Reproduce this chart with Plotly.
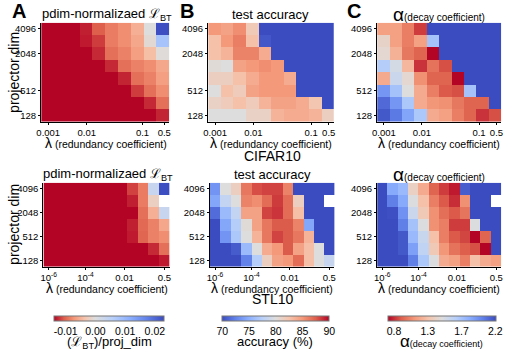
import plotly.graph_objects as go

# ---------------- data ----------------
TOP_X_TICKS = ["0.001", "0.01", "0.1", "0.5"]
BOT_X_TICKS = ["10<sup>-6</sup>", "10<sup>-4</sup>", "0.01", "0.5"]
Y_TICKS = ["4096", "2048", "512", "128"]

# CIFAR10: rows from projector dim 4096 (top) to 128 (bottom), 10 lambda columns
A_TOP = [
    [-0.0150, -0.0148, -0.0140, -0.0128, -0.0104, -0.0087, -0.0076, -0.0052, 0.0000, 0.0230],
    [-0.0150, -0.0150, -0.0146, -0.0130, -0.0117, -0.0087, -0.0076, -0.0058, -0.0007, 0.0081],
    [-0.0150, -0.0150, -0.0150, -0.0146, -0.0124, -0.0094, -0.0083, -0.0065, -0.0039, -0.0003],
    [-0.0150, -0.0150, -0.0150, -0.0150, -0.0146, -0.0124, -0.0094, -0.0083, -0.0076, -0.0058],
    [-0.0150, -0.0150, -0.0150, -0.0150, -0.0150, -0.0148, -0.0126, -0.0094, -0.0083, -0.0065],
    [-0.0150, -0.0150, -0.0150, -0.0150, -0.0150, -0.0150, -0.0148, -0.0117, -0.0094, -0.0076],
    [-0.0150, -0.0150, -0.0150, -0.0150, -0.0150, -0.0150, -0.0150, -0.0148, -0.0124, -0.0094],
    [-0.0150, -0.0150, -0.0150, -0.0150, -0.0150, -0.0150, -0.0150, -0.0150, -0.0148, -0.0126],
]
B_TOP = [
    [85.0, 84.5, 85.5, 82.0, 60.0, 60.0, 60.0, 60.0, 60.0, 60.0],
    [82.7, 85.0, 86.2, 82.7, 70.5, 60.0, 60.0, 60.0, 60.0, 60.0],
    [82.7, 83.5, 86.0, 86.0, 84.0, 60.0, 60.0, 60.0, 60.0, 60.0],
    [80.3, 80.0, 84.5, 85.0, 85.5, 85.0, 60.0, 60.0, 60.0, 60.0],
    [81.5, 81.5, 82.7, 84.0, 85.0, 85.0, 84.0, 60.0, 60.0, 60.0],
    [80.0, 82.7, 81.8, 84.5, 85.0, 85.0, 85.0, 60.0, 60.0, 60.0],
    [81.2, 81.8, 82.7, 81.8, 83.5, 84.5, 84.5, 84.0, 82.3, 60.0],
    [80.0, 80.0, 80.0, 81.2, 81.2, 83.5, 84.0, 84.0, 83.5, 81.5],
]
C_TOP = [
    [1.12, 1.12, 1.00, 0.83, 2.50, 2.50, 2.50, 2.50, 2.50, 2.50],
    [1.38, 1.12, 1.00, 1.12, 1.73, 2.50, 2.50, 2.50, 2.50, 2.50],
    [1.41, 1.19, 0.98, 0.92, 0.70, 2.50, 2.50, 2.50, 2.50, 2.50],
    [1.66, 1.51, 1.22, 0.81, 0.96, 0.87, 2.50, 2.50, 2.50, 2.50],
    [1.16, 1.56, 1.41, 1.06, 0.92, 0.92, 0.70, 2.50, 2.50, 2.50],
    [1.94, 1.73, 1.46, 1.16, 1.00, 0.89, 0.87, 1.73, 2.50, 2.50],
    [2.11, 1.94, 1.70, 1.16, 1.08, 1.06, 0.98, 0.92, 0.92, 2.50],
    [2.17, 2.05, 1.88, 1.70, 1.16, 1.12, 1.00, 0.92, 0.81, 0.87],
]

# STL10: rows 4096 (top) to 128 (bottom), 12 lambda columns
A_BOT = [
    [-0.0150, -0.0150, -0.0150, -0.0150, -0.0150, -0.0150, -0.0150, -0.0140, -0.0115, -0.0087, 0.0035, 0.0230],
    [-0.0150, -0.0150, -0.0150, -0.0150, -0.0150, -0.0150, -0.0150, -0.0145, -0.0128, -0.0087, -0.0020, None],
    [-0.0150, -0.0150, -0.0150, -0.0150, -0.0150, -0.0150, -0.0150, -0.0150, -0.0140, -0.0094, -0.0052, 0.0035],
    [-0.0150, -0.0150, -0.0150, -0.0150, -0.0150, -0.0150, -0.0150, -0.0150, -0.0128, -0.0098, -0.0083, -0.0058],
    [-0.0150, -0.0150, -0.0150, -0.0150, -0.0150, -0.0150, -0.0150, -0.0150, -0.0130, -0.0100, -0.0083, -0.0076],
    [-0.0150, -0.0150, -0.0150, -0.0150, -0.0150, -0.0150, -0.0150, -0.0150, -0.0150, -0.0140, -0.0124, -0.0094],
    [-0.0150, -0.0150, -0.0150, -0.0150, -0.0150, -0.0150, -0.0150, -0.0150, -0.0150, -0.0150, -0.0140, -0.0130],
]
B_BOT = [
    [73.5, 80.0, 81.5, 86.5, 88.0, 88.3, 88.3, 86.0, 60.0, 60.0, 60.0, 60.0],
    [74.5, 78.2, 80.0, 86.0, 85.5, 87.0, 88.5, 87.0, 81.5, 60.0, 60.0, None],
    [71.5, 75.8, 78.2, 84.5, 84.5, 88.3, 88.7, 87.0, 82.8, 60.0, 60.0, 60.0],
    [69.0, 74.5, 77.3, 80.3, 84.5, 86.5, 87.6, 87.6, 86.0, 74.5, 60.0, 60.0],
    [68.0, 73.5, 76.8, 80.0, 83.5, 86.5, 88.3, 87.6, 86.5, 83.5, 60.0, 60.0],
    [66.0, 67.0, 70.7, 75.8, 80.0, 84.0, 85.0, 87.6, 84.5, 82.8, 80.0, 60.0],
    [65.0, 66.0, 68.0, 72.5, 77.3, 81.5, 84.5, 85.0, 87.0, 82.8, 80.0, 78.5],
]
C_BOT = [
    [2.50, 1.86, 1.78, 1.36, 1.16, 0.92, 0.83, 0.76, 2.15, 2.50, 2.50, 2.50],
    [2.50, 2.03, 1.86, 1.47, 1.26, 1.00, 0.89, 0.80, 1.06, 2.50, 2.50, None],
    [2.50, 2.20, 1.96, 1.56, 1.31, 1.06, 0.95, 0.89, 0.97, 2.50, 2.50, 2.50],
    [2.50, 2.50, 2.03, 1.73, 1.47, 1.06, 1.00, 0.83, 0.83, 1.47, 2.50, 2.50],
    [2.50, 2.50, 2.17, 1.78, 1.57, 1.26, 1.00, 0.89, 0.85, 0.70, 0.92, 2.50],
    [2.50, 2.50, 2.17, 1.90, 1.60, 1.31, 1.08, 0.96, 0.90, 0.87, 0.70, 2.50],
    [2.50, 2.50, 2.50, 2.03, 1.70, 1.47, 1.16, 1.12, 1.00, 1.26, 1.16, 1.12],
]

CB_A_TICKS = [-0.01, 0.0, 0.01, 0.02]
CB_A_LABELS = ["-0.01", "0.00", "0.01", "0.02"]
CB_B_TICKS = [70, 75, 80, 85, 90]
CB_C_TICKS = [0.8, 1.2667, 1.7333, 2.2]
CB_C_LABELS = ["0.8", "1.3", "1.7", "2.2"]

# ---------------- styling ----------------
W, H = 512, 350
FONT = "Liberation Sans, Arial, Helvetica, sans-serif"


def fx(x):
    return x / W


def fy(y):
    return 1 - y / H


CW = [(59, 76, 192), (98, 130, 234), (141, 176, 254), (184, 208, 249), (221, 221, 221),
      (245, 196, 173), (244, 154, 123), (222, 96, 77), (180, 4, 38)]


def coolwarm(rev, mid):
    cols = CW[::-1] if rev else CW
    out = []
    for i, c in enumerate(cols):
        p = mid * i / 4 if i <= 4 else mid + (1 - mid) * (i - 4) / 4
        out.append([p, "rgb(%d,%d,%d)" % c])
    return out


fig = go.Figure()

panels = [
    (A_TOP, "coloraxis", 1, 36.7, 166.7, 22.7, 121.7, [0.05, 3.05, 7.4, 9.1], TOP_X_TICKS, [0, 2, 5, 7]),
    (B_TOP, "coloraxis2", 2, 206.0, 333.3, 22.7, 121.7, [0.05, 3.1, 7.7, 9.1], TOP_X_TICKS, [0, 2, 5, 7]),
    (C_TOP, "coloraxis3", 3, 377.3, 503.3, 22.7, 121.7, [0.05, 3.1, 7.7, 9.1], TOP_X_TICKS, [0, 2, 5, 7]),
    (A_BOT, "coloraxis", 4, 39.0, 167.0, 182.7, 266.7, [0.0, 3.5, 7.2, 11.0], BOT_X_TICKS, [0, 2, 4, 6]),
    (B_BOT, "coloraxis2", 5, 207.7, 334.0, 182.7, 266.7, [0.0, 3.5, 7.2, 11.0], BOT_X_TICKS, [0, 2, 4, 6]),
    (C_BOT, "coloraxis3", 6, 377.3, 503.3, 182.7, 266.7, [0.0, 3.5, 7.2, 11.0], BOT_X_TICKS, [0, 2, 4, 6]),
]

layout_axes = {}
for z, cax, k, x0, x1, y0, y1, xtp, xtl, ytp in panels:
    sfx = "" if k == 1 else str(k)
    fig.add_trace(go.Heatmap(z=z, coloraxis=cax, xaxis="x" + sfx, yaxis="y" + sfx,
                             hoverongaps=False))
    ncol, nrow = len(z[0]), len(z)
    common = dict(showline=True, linecolor="black", linewidth=1.3, ticks="outside",
                  ticklen=2, tickwidth=1, tickcolor="black", showgrid=False, zeroline=False,
                  tickangle=0, tickfont=dict(size=9.5, color="black", family=FONT))
    layout_axes["xaxis" + sfx] = dict(domain=[fx(x0), fx(x1)], anchor="y" + sfx,
                                      range=[-0.5, ncol - 0.5], tickvals=xtp, ticktext=xtl,
                                      **common)
    layout_axes["yaxis" + sfx] = dict(domain=[fy(y1), fy(y0)], anchor="x" + sfx,
                                      range=[nrow - 0.5, -0.5], tickvals=ytp, ticktext=Y_TICKS,
                                      **common)

cb_common = dict(orientation="h", xanchor="center", y=fy(315.7), yanchor="top",
                 lenmode="pixels", thickness=5, outlinewidth=1, outlinecolor="#777",
                 xpad=0, ypad=0, ticks="", tickfont=dict(size=10.5, color="black", family=FONT))

fig.update_layout(
    width=W, height=H,
    margin=dict(l=0, r=0, t=0, b=0),
    paper_bgcolor="white", plot_bgcolor="white",
    font=dict(family=FONT, color="black"),
    coloraxis=dict(cmin=-0.0138, cmax=0.0232, colorscale=coolwarm(True, 0.373),
                   colorbar=dict(x=fx(105.8), len=110, tickvals=CB_A_TICKS,
                                 ticktext=CB_A_LABELS, **cb_common)),
    coloraxis2=dict(cmin=70, cmax=90, colorscale=coolwarm(False, 0.5),
                    colorbar=dict(x=fx(274.5), len=107, tickvals=CB_B_TICKS, **cb_common)),
    coloraxis3=dict(cmin=0.717, cmax=2.21, colorscale=coolwarm(True, 0.498),
                    colorbar=dict(x=fx(443), len=108, tickvals=CB_C_TICKS,
                                  ticktext=CB_C_LABELS, **cb_common)),
    **layout_axes,
)


def ann(text, x, y, size, **kw):
    d = dict(text=text, x=fx(x), y=fy(y), xref="paper", yref="paper", showarrow=False,
             font=dict(size=size, color="black", family=FONT), xanchor="center", yanchor="middle")
    d.update(kw)
    return d


LAM = "<span style='font-size:14px'>λ</span> (redundancy coefficient)"
ALPHA = "<span style='font-size:19px'>α</span><span style='font-size:10px'>(decay coefficient)</span>"
annotations = [
    ann("<b>A</b>", 14, 11, 20),
    ann("<b>B</b>", 185, 11, 20),
    ann("<b>C</b>", 354, 11, 20),
    ann("pdim-normalizaed ℒ<sub>BT</sub>", 103, 14, 13),
    ann("test accuracy", 269, 14, 13),
    ann(ALPHA, 440, 14, 10),
    ann("pdim-normalizaed ℒ<sub>BT</sub>", 104, 174, 13),
    ann("test accuracy", 271, 174, 13),
    ann(ALPHA, 440, 174, 10),
    ann(LAM, 102, 143, 10.5),
    ann(LAM, 270, 143, 10.5),
    ann(LAM, 440, 143, 10.5),
    ann(LAM, 103, 288, 10.5),
    ann(LAM, 271, 288, 10.5),
    ann(LAM, 440, 288, 10.5),
    ann("projector dim", 9, 72, 14, textangle=-90),
    ann("projector dim", 9, 224, 14, textangle=-90),
    ann("CIFAR10", 271, 156, 14),
    ann("STL10", 271, 299, 14),
    ann("(ℒ<sub>BT</sub>)/proj_dim", 106, 342, 13),
    ann("accuracy (%)", 274, 341.5, 13),
    ann("<span style='font-size:17px'>α</span><span style='font-size:9px'>(decay coefficient)</span>", 443, 341.5, 10),
]
fig.update_layout(annotations=annotations)

fig.write_html("out.html")
